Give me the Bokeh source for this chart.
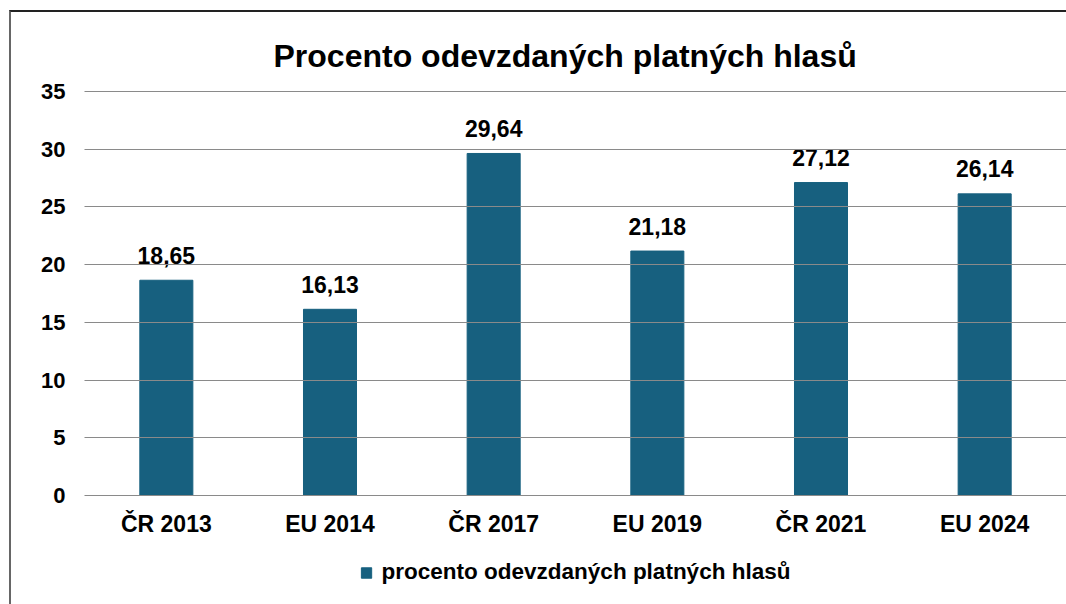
from bokeh.plotting import figure
from bokeh.layouts import column
from bokeh.models import ColumnDataSource, Legend, LegendItem, FactorRange, Range1d
from bokeh.core.properties import value
from bokeh.embed import file_html
from bokeh.resources import INLINE

categories = ["ČR 2013", "EU 2014", "ČR 2017", "EU 2019", "ČR 2021", "EU 2024"]
values = [18.65, 16.13, 29.64, 21.18, 27.12, 26.14]
series_name = "procento odevzdaných platných hlasů"
title_text = "Procento odevzdaných platných hlasů"
y_ticks = [0, 5, 10, 15, 20, 25, 30, 35]

labels = [f"{v:.2f}".replace(".", ",") for v in values]
src = ColumnDataSource(dict(cat=categories, val=values, lab=labels))

FONT = "Liberation Sans"
BAR = "#17607F"

p = figure(x_range=FactorRange(*categories, range_padding=0), y_range=Range1d(-0.1, 35.1),
           frame_width=982, frame_height=406, output_backend="svg", toolbar_location=None,
           min_border_left=73, min_border_top=78, min_border_right=0, min_border_bottom=44)

p.title.text = title_text
p.title.align = "left"
p.title.offset = 189
p.title.text_font = FONT
p.title.text_font_size = "32px"
p.title.text_font_style = "bold"
p.title.text_color = "#000000"
p.title.standoff = 34

r = p.vbar(x="cat", top="val", width=0.324, source=src, color=BAR)

p.text(x="cat", y="val", text="lab", source=src, text_align="center",
       text_baseline="alphabetic", y_offset=-25, text_font=value(FONT),
       text_font_size="23px", text_font_style="bold", text_color="#000000")

p.outline_line_color = None
p.xgrid.grid_line_color = None
p.ygrid.grid_line_color = "#8a8a8a"
p.ygrid.grid_line_width = 1.2
p.ygrid.level = "annotation"

p.yaxis.ticker = y_ticks
p.yaxis.axis_line_color = None
p.yaxis.major_tick_line_color = None
p.yaxis.minor_tick_line_color = None
p.yaxis.major_label_standoff = 13
p.yaxis.major_label_text_font = FONT
p.yaxis.major_label_text_font_size = "22px"
p.yaxis.major_label_text_font_style = "bold"
p.yaxis.major_label_text_color = "#000000"

p.xaxis.axis_line_color = None
p.xaxis.major_tick_line_color = None
p.xaxis.major_label_standoff = 8
p.xaxis.major_label_text_font = FONT
p.xaxis.major_label_text_font_size = "23px"
p.xaxis.major_label_text_font_style = "bold"
p.xaxis.major_label_text_color = "#000000"

# legend strip below the chart (its bars lie far outside the view, used only as legend swatch)
p2 = figure(width=1055, height=64, output_backend="svg", toolbar_location=None,
            x_range=FactorRange(*categories), y_range=Range1d(1000, 1001),
            x_axis_location=None, y_axis_location=None,
            min_border_left=43, min_border_right=0, min_border_top=0, min_border_bottom=0)
p2.outline_line_color = None
p2.grid.grid_line_color = None
r2 = p2.vbar(x="cat", top="val", width=0.324, source=src, color=BAR)
legend = Legend(items=[LegendItem(label=series_name, renderers=[r2])],
                orientation="horizontal", location="center",
                label_text_font=FONT, label_text_font_size="22.5px",
                label_text_font_style="bold", label_text_color="#000000",
                glyph_width=13, glyph_height=13, label_standoff=9,
                border_line_color=None, background_fill_alpha=0, margin=0, padding=0)
p2.add_layout(legend, "center")

layout = column(p, p2, spacing=0)
layout.margin = (10, 0, 0, 9)
layout.styles = {"border-left": "2px solid #666", "border-top": "2px solid #222"}

open("out.html", "w").write(file_html(layout, INLINE))
